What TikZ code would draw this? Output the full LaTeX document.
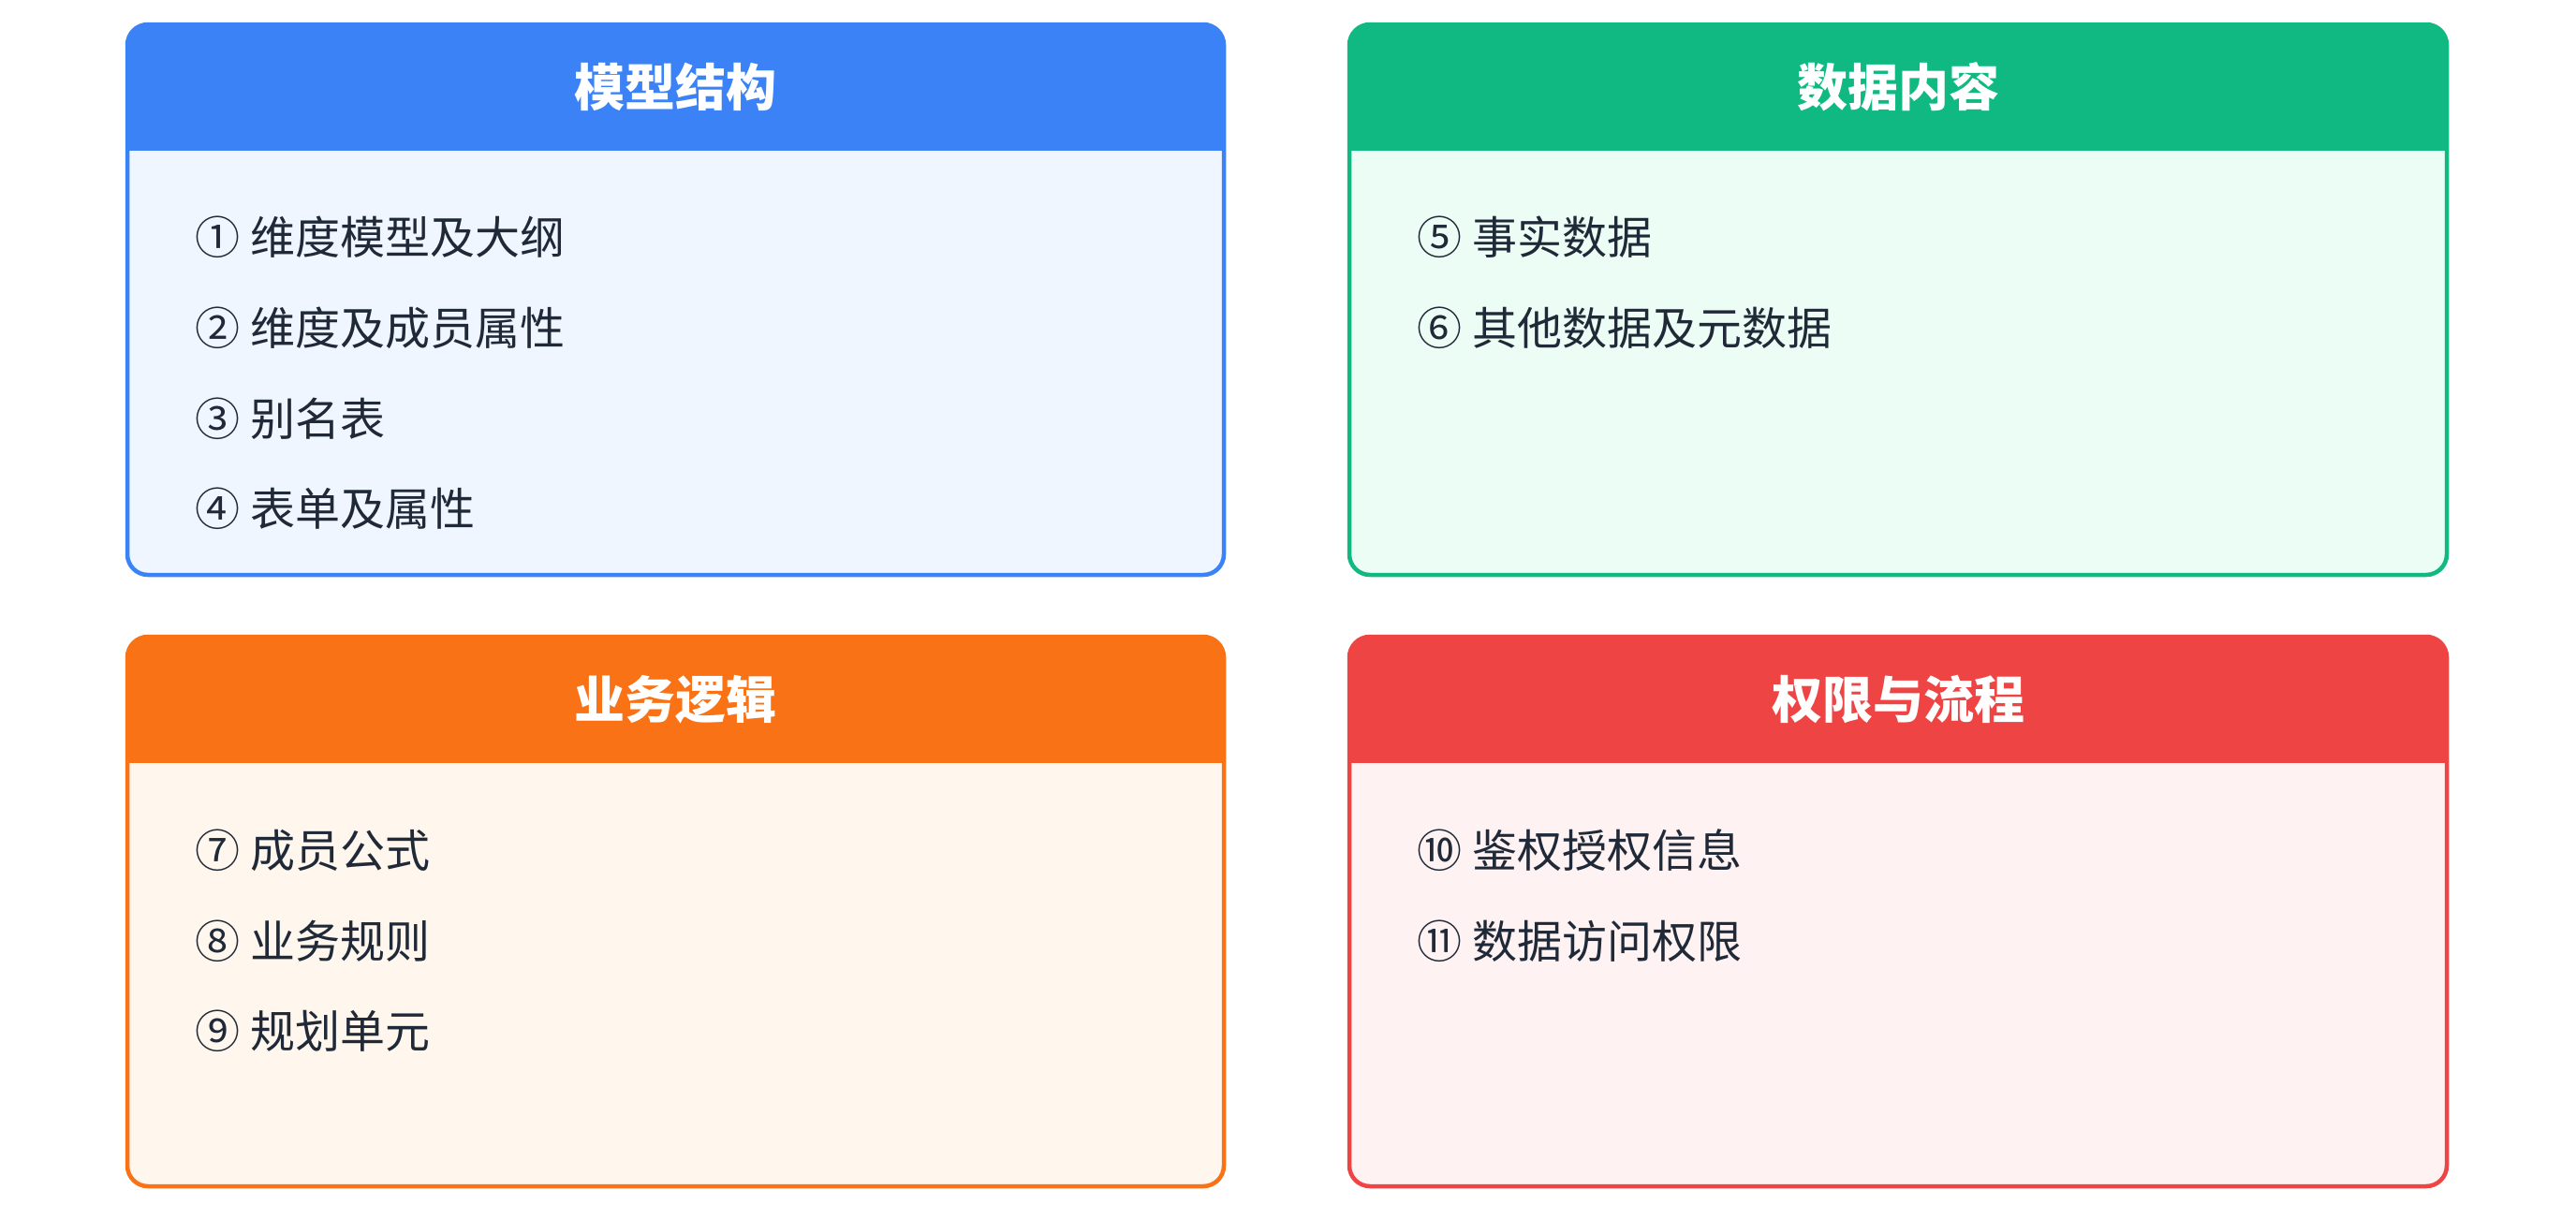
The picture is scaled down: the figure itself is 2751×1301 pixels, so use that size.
\documentclass[tikz,border=0pt]{standalone}
\usepackage{fontspec}
\setmainfont{Noto Sans CJK SC}
\usepackage{tikz}
\definecolor{ink}{HTML}{1F2937}
\definecolor{blueHead}{HTML}{3B82F6}
\definecolor{blueBody}{HTML}{EFF6FF}
\definecolor{greenHead}{HTML}{10B981}
\definecolor{greenBody}{HTML}{ECFDF5}
\definecolor{orangeHead}{HTML}{F97316}
\definecolor{orangeBody}{HTML}{FFF7ED}
\definecolor{redHead}{HTML}{EF4444}
\definecolor{redBody}{HTML}{FEF2F2}
\tikzset{
  panel/.style={rounded corners=22pt, line width=4.5pt},
  title/.style={font=\fontsize{54}{62}\selectfont\bfseries, text=white},
  entry/.style={anchor=west, font=\fontsize{48}{56}\selectfont, text=ink},
}
% #1,#2 top left, #3,#4 bottom right, #5 head colour, #6 body colour
\newcommand{\drawpanel}[6]{
  \fill[#6, panel] (#1,#2) rectangle (#3,#4);
  \begin{scope}
    \clip (#1-10,#2-10) rectangle (#3+10,#2+134);
    \fill[#5, panel] (#1,#2) rectangle (#3,#4);
  \end{scope}
  \draw[#5, panel] (#1,#2) rectangle (#3,#4);
}

\begin{document}
\begin{tikzpicture}[x=1pt, y=-1pt]
\useasboundingbox (0,0) rectangle (2751,1301);

\drawpanel{136}{26}{1307}{614}{blueHead}{blueBody}
\drawpanel{1441}{26}{2613}{614}{greenHead}{greenBody}
\drawpanel{136}{680}{1307}{1267}{orangeHead}{orangeBody}
\drawpanel{1441}{680}{2613}{1267}{redHead}{redBody}

\node[title] (model) at (721.5, 93) {模型结构};
\node[title] (data) at (2027, 93) {数据内容};
\node[title] (logic) at (721.5, 747) {业务逻辑};
\node[title] (rights) at (2027, 747) {权限与流程};

\node[entry] (m1) at (205, 253) {① 维度模型及大纲};
\node[entry] (m2) at (205, 350) {② 维度及成员属性};
\node[entry] (m3) at (205, 447) {③ 别名表};
\node[entry] (m4) at (205, 543) {④ 表单及属性};

\node[entry] (d1) at (1510, 253) {⑤ 事实数据};
\node[entry] (d2) at (1510, 350) {⑥ 其他数据及元数据};

\node[entry] (l1) at (205, 908) {⑦ 成员公式};
\node[entry] (l2) at (205, 1005) {⑧ 业务规则};
\node[entry] (l3) at (205, 1101) {⑨ 规划单元};

\node[entry] (r1) at (1510, 908) {⑩ 鉴权授权信息};
\node[entry] (r2) at (1510, 1005) {⑪ 数据访问权限};
\end{tikzpicture}
\end{document}
